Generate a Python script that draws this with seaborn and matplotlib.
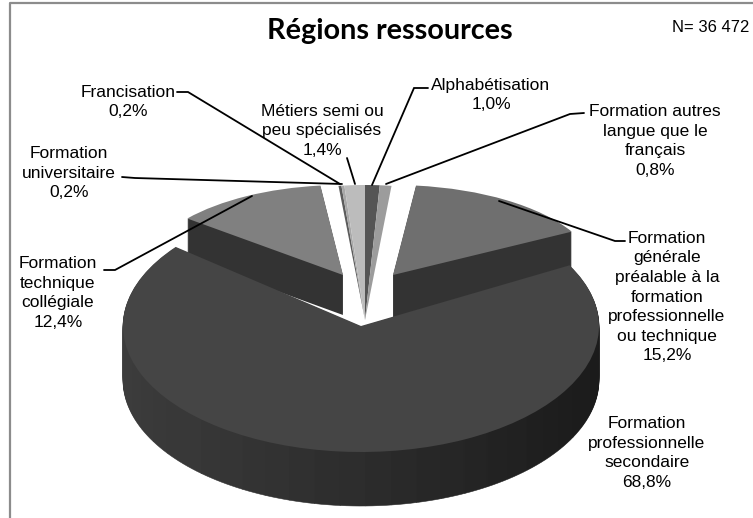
import numpy as np
import matplotlib
matplotlib.use('Agg')
import matplotlib.pyplot as plt
from matplotlib.transforms import Affine2D
import seaborn as sns

categories = ['Alphabétisation', 'Formation autres\nlangue que le\nfrançais',
              'Formation\ngénérale\npréalable à la\nformation\nprofessionnelle\nou technique',
              'Formation\nprofessionnelle\nsecondaire', 'Formation\ntechnique\ncollégiale',
              'Formation\nuniversitaire', 'Francisation', 'Métiers semi ou\npeu spécialisés']
shares = [1.0, 0.8, 15.2, 68.8, 12.4, 0.2, 0.2, 1.4]
share_labels = ['1,0%', '0,8%', '15,2%', '68,8%', '12,4%', '0,2%', '0,2%', '1,4%']
chart_title = 'Régions ressources'
n_label = 'N= 36 472'

# Top colour of each slice
face_colors = ['#555555', '#9c9c9c', '#6f6f6f', '#454545', '#808080', '#5c5c5c', '#a8a8a8', '#bcbcbc']
wall_color = '#333333'

# Ellipse of each slice in pixels: centre x, centre y, radius x, radius y, depth
small = (365, 320, 235, 135, 0)
geometry = [small, small, (393, 275, 204, 90, 44), (361, 326, 238, 126, 54),
            (343, 275, 200, 90, 40), small, small, small]

# Label centres in pixels
label_pos = [(491, 95), (655, 141), (667, 297), (647, 453), (58, 293), (69, 173), (128, 102), (322, 131)]

# Leader lines in pixels
leaders = [
    ([428, 414, 372], [88, 88, 185]),
    ([584, 570, 386], [113, 114, 184]),
    ([625, 615, 499], [241, 241, 201]),
    ([104, 115, 252], [270, 270, 196]),
    ([122, 135, 342], [177, 178, 184]),
    ([177, 188, 340], [92, 92, 184]),
    ([347, 355], [158, 184]),
]

sns.set_style('white')
plt.rcParams['font.family'] = ['Liberation Sans', 'DejaVu Sans']

fig = plt.figure(figsize=(7.53, 5.18), dpi=100)
ax = fig.add_axes([0, 0, 1, 1])


def slice_transform(geo, drop=0):
    cx, cy, rx, ry, _ = geo
    return Affine2D().scale(rx, -ry).translate(cx, cy + drop) + ax.transData


def draw_top(idx, color):
    colors = [color if i == idx else 'none' for i in range(len(shares))]
    return ax.pie(shares, colors=colors, startangle=90, counterclock=False,
                  wedgeprops={'transform': slice_transform(geometry[idx]), 'linewidth': 0})


def draw_wall(idx):
    geo = geometry[idx]
    colors = [wall_color if i == idx else 'none' for i in range(len(shares))]
    for drop in np.arange(geo[4], 0, -1):
        ax.pie(shares, colors=colors, startangle=90, counterclock=False,
               wedgeprops={'transform': slice_transform(geo, drop), 'linewidth': 0})


def draw_main_wall(idx):
    # main slice wall gets darker from left to right
    geo = geometry[idx]
    before = sum(shares[:idx])
    after = sum(shares[idx + 1:])
    n_bands = 40
    band = shares[idx] / n_bands
    ramp = sns.blend_palette(['#3c3c3c', '#2c2c2c', '#1b1b1b'], 101)
    mids = np.radians((before + band * (np.arange(n_bands) + 0.5)) * 3.6)
    band_colors = [ramp[int(round((np.sin(m) + 1) * 50))] for m in mids]
    band_colors = ['none'] + band_colors + ['none']
    values = [before] + [band] * n_bands + [after]
    for drop in np.arange(geo[4], 0, -1):
        wedges, _ = ax.pie(values, colors=band_colors, startangle=90, counterclock=False,
                           wedgeprops={'transform': slice_transform(geo, drop), 'linewidth': 0})
        for w in wedges[1:-1]:
            w.set_edgecolor(w.get_facecolor())
            w.set_linewidth(0.4)


# back slices first, the main slice last so it covers their walls
for i in [0, 1, 5, 6, 7]:
    draw_top(i, face_colors[i])
for i in [2, 4]:
    draw_wall(i)
    draw_top(i, face_colors[i])
draw_main_wall(3)
draw_top(3, face_colors[3])

ax.set_aspect('auto')
ax.set_xlim(0, 753)
ax.set_ylim(518, 0)
ax.set_frame_on(False)
ax.set_xticks([])
ax.set_yticks([])

# chart frame, only left and top survive in the crop
ax.plot([10, 10, 753], [518, 3, 3], color='#8c8c8c', lw=1.6, zorder=5)

for xs, ys in leaders:
    ax.plot(xs, ys, color='black', lw=1.3, zorder=6, solid_joinstyle='miter')

for cat, lab, (x, y) in zip(categories, share_labels, label_pos):
    ax.text(x, y, cat + '\n' + lab, ha='center', va='center', fontsize=12.5,
            linespacing=1.38, color='black', zorder=7)

ax.text(390, 31, chart_title, ha='center', va='center', fontsize=20.7, fontweight='bold',
        family=['Lato', 'DejaVu Sans'], color='black', zorder=7)
ax.text(711, 28, n_label, ha='center', va='center', fontsize=12, color='black', zorder=7)

fig.savefig('out.png', dpi=100)
